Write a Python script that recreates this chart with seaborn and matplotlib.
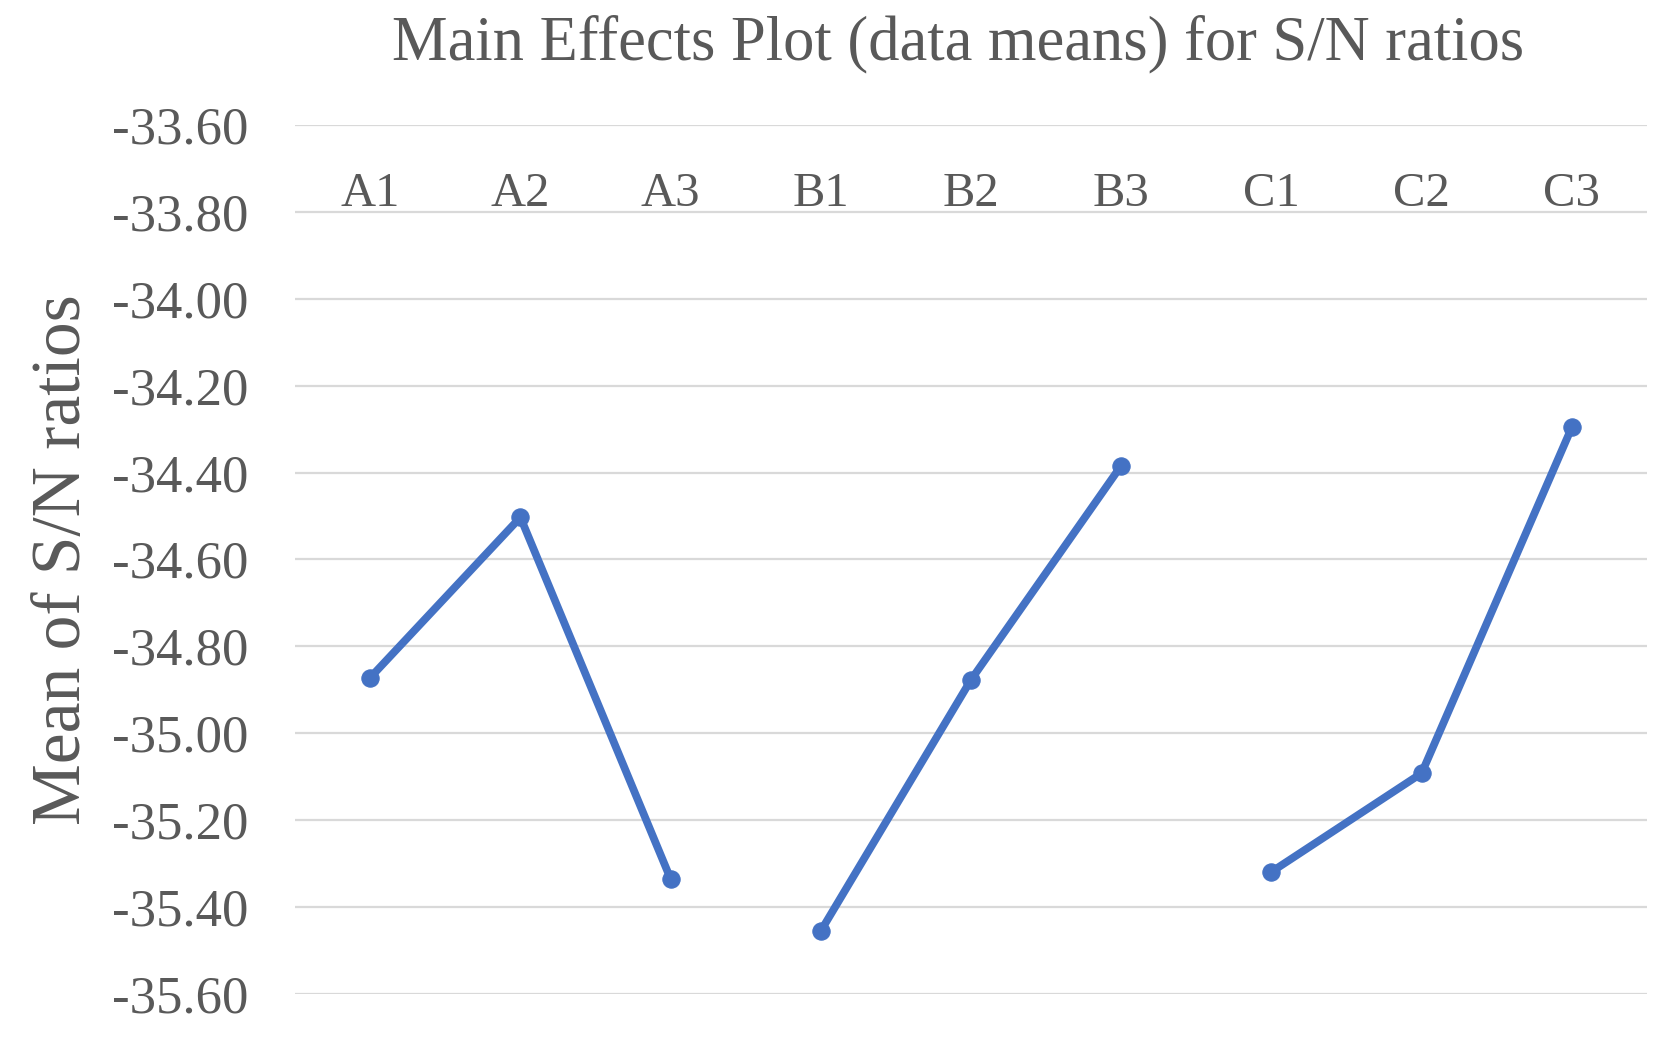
"""
Main effects plot of S/N ratios (Taguchi analysis)
"""

import matplotlib
matplotlib.use('Agg')
import matplotlib.pyplot as plt
import seaborn as sns
import numpy as np
import pandas as pd

# Data
factors = ['A', 'A', 'A', 'B', 'B', 'B', 'C', 'C', 'C']
levels = ['A1', 'A2', 'A3', 'B1', 'B2', 'B3', 'C1', 'C2', 'C3']
sn_means = [-34.872, -34.503, -35.335, -35.455, -34.877, -34.384, -35.319, -35.092, -34.296]
y_ticks = [-33.60, -33.80, -34.00, -34.20, -34.40, -34.60, -34.80, -35.00, -35.20, -35.40, -35.60]

sns.set_style('white')
plt.rcParams['font.family'] = ['Liberation Serif', 'DejaVu Serif']

text_color = '#595959'
line_color = '#4472C4'

df = pd.DataFrame({
    'Factor': factors,
    'Level': levels,
    'Pos': np.arange(len(levels)),
    'SN': sn_means,
})

fig = plt.figure(figsize=(16.72, 10.37), dpi=100)
ax = fig.add_axes([0.1765, 0.0415, 0.8085, 0.838])

# One line per factor, no connection between factors
for factor in df['Factor'].unique():
    sub = df[df['Factor'] == factor]
    sns.lineplot(data=sub, x='Pos', y='SN', ax=ax, color=line_color,
                 linewidth=5.6, marker='o', markersize=12.5,
                 markeredgecolor=line_color, estimator=None, legend=False)

ax.set_xlim(-0.5, len(levels) - 0.5)
ax.set_ylim(min(y_ticks), max(y_ticks))
ax.set_yticks(y_ticks)
ax.set_yticklabels([f'{v:.2f}' for v in y_ticks])
ax.grid(axis='y', color='#D9D9D9', linewidth=1.6)
ax.set_axisbelow(True)
for spine in ax.spines.values():
    spine.set_visible(False)

ax.set_xticks([])
ax.set_xlabel('')
ax.tick_params(axis='y', length=0, pad=34, labelsize=38, labelcolor=text_color)

# Category labels sit inside the plot, just above the -33.80 gridline
for pos, level in zip(df['Pos'], df['Level']):
    ax.text(pos, -33.786, level, ha='center', va='baseline',
            fontsize=35, color=text_color)

ax.set_ylabel('Mean of S/N ratios', fontsize=50, color=text_color)
ax.yaxis.set_label_coords(-0.148, 0.5)

fig.text(0.573, 0.957, 'Main Effects Plot (data means) for S/N ratios',
         ha='center', va='center', fontsize=45, color=text_color)

fig.savefig('out.png', dpi=100)
plt.close(fig)
